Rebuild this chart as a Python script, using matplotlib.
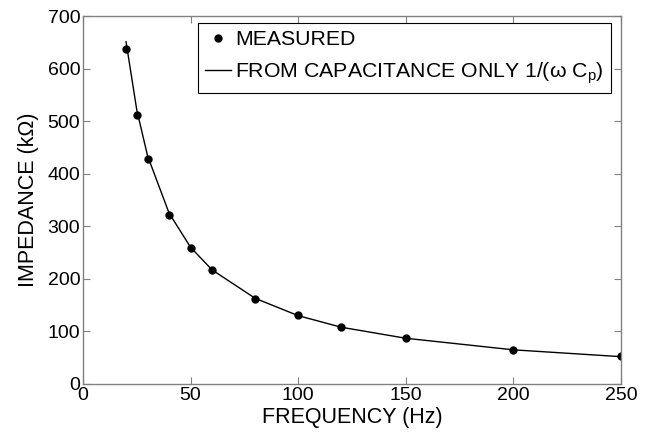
import matplotlib
matplotlib.use("Agg")
import matplotlib.pyplot as plt

plt.rcParams['font.family'] = ['Liberation Sans', 'DejaVu Sans']
plt.rcParams['mathtext.fontset'] = 'custom'
plt.rcParams['mathtext.rm'] = 'Liberation Sans'
plt.rcParams['mathtext.it'] = 'Liberation Sans'

freq = [20, 25, 30, 40, 50, 60, 80, 100, 120, 150, 200, 250]  # Hz
measured = [637, 512, 428, 321, 259, 217, 162, 131, 109, 87, 65, 54]  # kOhm
cap_only = [651, 521, 434, 325, 260, 217, 163, 130, 108, 87, 65, 52]  # kOhm

W, H = 648, 437
fig = plt.figure(figsize=(W / 100, H / 100), dpi=100)
# axes box: x 83..621 px, y 16..384 px
ax = fig.add_axes([83 / W, (H - 384) / H, (621 - 83) / W, (384 - 16) / H])

ax.plot(freq, measured, 'o', color='black', markersize=5, label='MEASURED')
ax.plot(freq, cap_only, '-', color='black', linewidth=1.0,
        label=r'FROM CAPACITANCE ONLY 1/(ω C$_{\rm p}$)')

ax.set_xlim(0, 250)
ax.set_ylim(0, 700)
ax.set_xticks(range(0, 251, 50))
ax.set_yticks(range(0, 701, 100))
ax.tick_params(direction='in', top=True, right=True, labelsize=14,
               length=5, color='#808080', pad=2)
for sp in ax.spines.values():
    sp.set_color('#808080')
    sp.set_linewidth(1.0)

ax.set_xlabel('FREQUENCY (Hz)', fontsize=15.5, labelpad=2)
ax.set_ylabel('IMPEDANCE (kΩ)', fontsize=15.5, labelpad=6)

leg = ax.legend(loc='upper right', bbox_to_anchor=(611 / W, (H - 23) / H),
                bbox_transform=fig.transFigure, borderaxespad=0,
                fontsize=15.3, fancybox=False, framealpha=1,
                edgecolor='black', handlelength=1.2,
                handletextpad=0.2, borderpad=0.35, labelspacing=0.5)
leg.get_frame().set_linewidth(0.8)

fig.savefig('out.png', dpi=100)
